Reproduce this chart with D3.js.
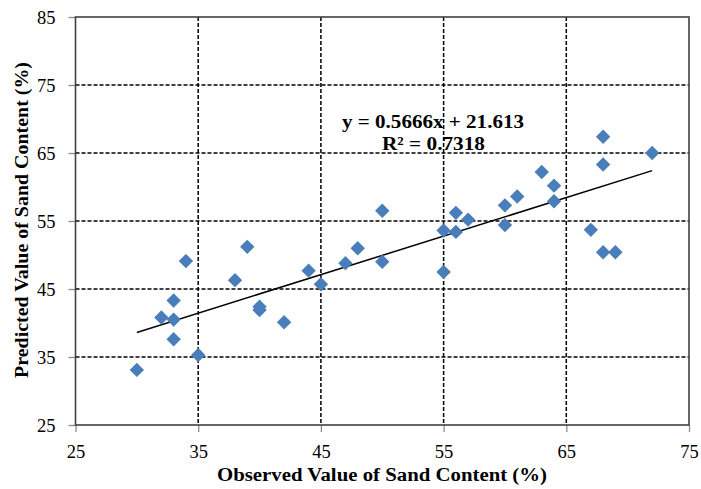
<!DOCTYPE html>
<html>
<head>
<meta charset="utf-8">
<script src="https://cdn.jsdelivr.net/npm/d3@7"></script>
<style>
  html, body { margin: 0; padding: 0; background: #fff; }
  svg { display: block; }
</style>
</head>
<body>
<svg id="chart" width="701" height="489"></svg>
<script>
// Observed vs predicted sand content (%)
const observed  = [30, 32, 33, 33, 33, 34, 35, 38, 39, 40, 40, 42, 44, 45, 47, 48, 50, 50,
                   55, 55, 56, 56, 57, 60, 60, 61, 63, 64, 64, 67, 68, 68, 68, 69, 72];
const predicted = [33.1, 40.8, 40.5, 43.3, 37.6, 49.1, 35.3, 46.3, 51.2, 42.4, 41.9, 40.1, 47.7, 45.7, 48.8, 51.0, 56.5, 49.0,
                   53.6, 47.5, 56.2, 53.4, 55.2, 57.3, 54.4, 58.6, 62.2, 60.2, 57.9, 53.7, 67.4, 63.3, 50.4, 50.4, 65.0];

// Linear fit reported on the chart
const slope = 0.5666;
const intercept = 21.613;
const rSquared = 0.7318;

const xTicks = [25, 35, 45, 55, 65, 75];
const yTicks = [25, 35, 45, 55, 65, 75, 85];

const xTitle = "Observed Value of Sand Content (%)";
const yTitle = "Predicted Value of Sand Content (%)";

const width = 701, height = 489;
const margin = { top: 17, right: 12, bottom: 64, left: 75.5 };
const serif = "'Liberation Serif', 'Times New Roman', serif";

const svg = d3.select("#chart");

const x = d3.scaleLinear().domain([25, 75]).range([margin.left, width - margin.right]);
const y = d3.scaleLinear().domain([25, 85]).range([height - margin.bottom, margin.top]);

// Dashed gridlines (interior only)
const grid = svg.append("g").attr("stroke", "#000").attr("stroke-width", 1.5)
  .attr("stroke-dasharray", "4,2").attr("fill", "none");
grid.selectAll("line.v").data(xTicks.slice(1, -1)).join("line")
  .attr("class", "v")
  .attr("x1", d => x(d)).attr("x2", d => x(d))
  .attr("y1", y(85)).attr("y2", y(25));
grid.selectAll("line.h").data(yTicks.slice(1, -1)).join("line")
  .attr("class", "h")
  .attr("x1", x(25)).attr("x2", x(75))
  .attr("y1", d => y(d)).attr("y2", d => y(d));

// Axes
const xAxis = svg.append("g")
  .attr("transform", `translate(0,${y(25)})`)
  .call(d3.axisBottom(x).tickValues(xTicks).tickSize(7).tickPadding(13).tickFormat(d3.format("d")));
const yAxis = svg.append("g")
  .attr("transform", `translate(${x(25)},0)`)
  .call(d3.axisLeft(y).tickValues(yTicks).tickSize(7).tickPadding(13).tickFormat(d3.format("d")));

[xAxis, yAxis].forEach(g => {
  g.select(".domain").remove();
  g.selectAll(".tick line").attr("stroke", "#8c8c8c").attr("stroke-width", 1.3);
  g.selectAll(".tick text")
    .attr("font-family", serif)
    .attr("font-size", 18)
    .attr("fill", "#000")
    .attr("textLength", 18.5)
    .attr("lengthAdjust", "spacingAndGlyphs");
});
yAxis.selectAll(".tick text").attr("dy", "0.36em");

// Plot frame
svg.append("rect")
  .attr("x", x(25)).attr("y", y(85))
  .attr("width", x(75) - x(25)).attr("height", y(25) - y(85))
  .attr("fill", "none").attr("stroke", "#404040").attr("stroke-width", 1.6);

// Trendline across the observed range
const xExtent = d3.extent(observed);
const line = d3.line().x(d => x(d)).y(d => y(slope * d + intercept));
svg.append("path")
  .datum(xExtent)
  .attr("d", line)
  .attr("fill", "none").attr("stroke", "#000").attr("stroke-width", 1.5);

// Diamond markers
const diamond = {
  draw(ctx, size) {
    const r = Math.sqrt(size / 2);
    ctx.moveTo(0, -r); ctx.lineTo(r, 0); ctx.lineTo(0, r); ctx.lineTo(-r, 0); ctx.closePath();
  }
};
svg.append("g").selectAll("path").data(observed).join("path")
  .attr("transform", (d, i) => `translate(${x(d)},${y(predicted[i])})`)
  .attr("d", d3.symbol().type(diamond).size(2 * 7.2 * 7.2))
  .attr("fill", "#4a7ebb");

// Regression equation
svg.append("text")
  .attr("x", 433).attr("y", 128)
  .attr("text-anchor", "middle")
  .attr("font-family", serif).attr("font-weight", "bold").attr("font-size", 19)
  .attr("textLength", 182).attr("lengthAdjust", "spacingAndGlyphs")
  .text(`y = ${slope}x + ${intercept}`);
svg.append("text")
  .attr("x", 433.5).attr("y", 150)
  .attr("text-anchor", "middle")
  .attr("font-family", serif).attr("font-weight", "bold").attr("font-size", 19)
  .attr("textLength", 103).attr("lengthAdjust", "spacingAndGlyphs")
  .text(`R² = ${rSquared}`);

// Axis titles
svg.append("text")
  .attr("x", 382).attr("y", 481)
  .attr("text-anchor", "middle")
  .attr("font-family", serif).attr("font-weight", "bold").attr("font-size", 18.5)
  .attr("textLength", 330).attr("lengthAdjust", "spacingAndGlyphs")
  .text(xTitle);
svg.append("text")
  .attr("transform", "translate(28,220) rotate(-90)")
  .attr("text-anchor", "middle")
  .attr("font-family", serif).attr("font-weight", "bold").attr("font-size", 18.5)
  .attr("textLength", 316).attr("lengthAdjust", "spacingAndGlyphs")
  .text(yTitle);
</script>
</body>
</html>
